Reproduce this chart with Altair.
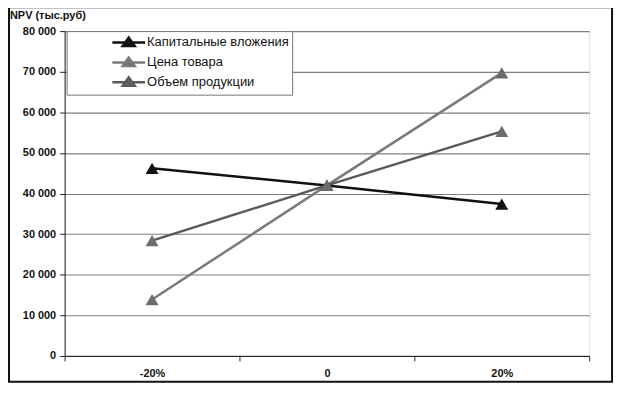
import altair as alt
import pandas as pd

categories = ["-20%", "0", "20%"]
series_names = ["Капитальные вложения", "Цена товара", "Объем продукции"]
capital = [46200, 42000, 37400]
price = [13900, 42000, 69700]
volume = [28400, 42000, 55300]

rows = []
for name, vals in zip(series_names, [capital, price, volume]):
    for c, v in zip(categories, vals):
        rows.append({"cat": c, "npv": v, "series": name})
df = pd.DataFrame(rows)

line_colors = ["#111111", "#7a7a7a", "#5a5a5a"]
marker_colors = ["#111111", "#6c6c6c", "#6c6c6c"]

W, H = 528, 327

x_enc = alt.X("cat:N", sort=categories, title=None,
              scale=alt.Scale(paddingInner=0, paddingOuter=0),
              axis=alt.Axis(labelAngle=0, tickBand="extent", domainColor="#222",
                            tickColor="#222", tickSize=5, labelPadding=7,
                            labelFont="Liberation Sans", labelFontWeight="bold",
                            labelFontSize=11, labelColor="#111", grid=False))
y_enc = alt.Y("npv:Q", title=None,
              scale=alt.Scale(domain=[0, 80000], nice=False),
              axis=alt.Axis(values=list(range(0, 80001, 10000)),
                            labelExpr="replace(format(datum.value, ',d'), ',', ' ')",
                            domainColor="#222", tickColor="#222", tickSize=5,
                            labelFont="Liberation Sans", labelFontWeight="bold",
                            labelFontSize=11, labelColor="#111", labelPadding=4,
                            gridColor="#7e7e7e", gridWidth=1.2))

legend = alt.Legend(orient="none", legendX=2, legendY=0,
                    fillColor="white", strokeColor="#777",
                    padding=3, symbolOffset=51,
                    symbolType="M-2.33,0H2.33M-0.85,0.5L0,-0.68L0.85,0.5Z",
                    symbolSize=200, symbolStrokeWidth=2.5, labelOffset=10,
                    labelFont="Liberation Sans", labelFontSize=13,
                    labelColor="#111", rowPadding=0, labelLimit=300)

frame = alt.Chart(pd.DataFrame({"a": [0]})).mark_rect(
    fill=None, stroke="#111", strokeWidth=2, clip=False
).encode(x=alt.value(-56), x2=alt.value(W + 23), y=alt.value(-24), y2=alt.value(H + 26))

title = alt.Chart(pd.DataFrame({"t": ["NPV (тыс.руб)"]})).mark_text(
    align="left", baseline="middle", font="Liberation Sans", fontWeight="bold",
    fontSize=11, color="#111", clip=False
).encode(x=alt.value(-55), y=alt.value(-15), text="t:N")

lines = alt.Chart(df).mark_line(strokeWidth=2.5).encode(
    x=x_enc, y=y_enc,
    stroke=alt.Stroke("series:N", scale=alt.Scale(domain=series_names, range=line_colors),
                      sort=series_names, title=None, legend=legend),
)

points = alt.Chart(df).mark_point(shape="triangle-up", filled=True, size=170, opacity=1).encode(
    x=alt.X("cat:N", sort=categories),
    y="npv:Q",
    fill=alt.Fill("series:N", scale=alt.Scale(domain=series_names, range=marker_colors),
                  sort=series_names, title=None, legend=legend),
)

chart = alt.layer(lines, points, frame, title).properties(
    width=W, height=H,
    padding={"left": 57, "top": 22, "right": 30, "bottom": 30},
    autosize=alt.AutoSizeParams(type="none"),
).configure_view(fill="#f2f2f2", stroke="#888", strokeWidth=1.2).configure(background="white")

chart.save("out.html", embed_options={"renderer": "svg", "actions": False})
